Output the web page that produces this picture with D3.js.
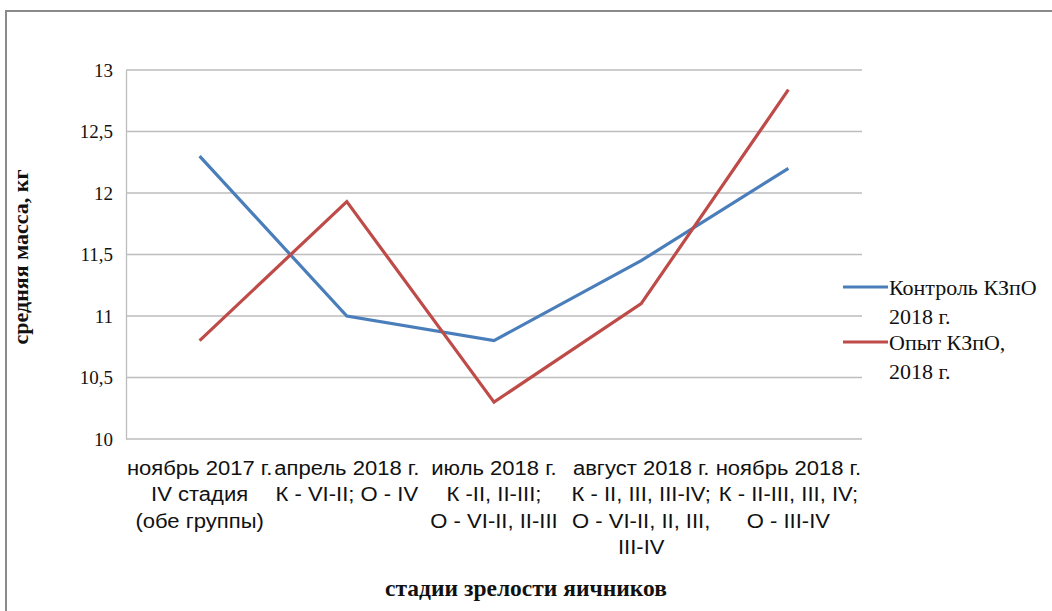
<!doctype html>
<html>
<head>
<meta charset="utf-8">
<script src="https://d3js.org/d3.v7.min.js"></script>
<style>
    body { margin: 0; background: #fff; }
    svg { display: block; }
</style>
</head>
<body>
<svg width="1052" height="611"></svg>
<script>
    // data
    var categories = [
        ["ноябрь 2017 г.", "IV стадия", "(обе группы)"],
        ["апрель 2018 г.", "К - VI-II; О - IV"],
        ["июль 2018 г.", "К -II, II-III;", "О - VI-II, II-III"],
        ["август 2018 г.", "К - II, III, III-IV;", "О - VI-II, II, III,", "III-IV"],
        ["ноябрь 2018 г.", "К - II-III, III, IV;", "О - III-IV"]
    ];
    var control = [12.3, 11.0, 10.8, 11.45, 12.2];
    var opyt = [10.8, 11.93, 10.3, 11.1, 12.84];
    var yTicks = [10, 10.5, 11, 11.5, 12, 12.5, 13];
    var seriesNames = [["Контроль КЗпО", "2018 г."], ["Опыт КЗпО,", "2018 г."]];
    var colors = ["#4a7ebb", "#be4b48"];

    // regular serif only shows up at large sizes here, so draw it at 28px and scale down
    var SERIF = "'Liberation Serif'";
    var BIG = 28;
    var svg = d3.select("svg");

    // outer frame
    svg.append("rect")
       .attr("x", 6).attr("y", 11)
       .attr("width", 1060).attr("height", 620)
       .attr("fill", "none")
       .attr("stroke", "#8a8a8a")
       .attr("stroke-width", 2);

    var plotL = 126, plotR = 862, plotT = 70, plotB = 439;

    var x = d3.scaleBand().domain(d3.range(categories.length)).range([plotL, plotR]);
    var y = d3.scaleLinear().domain([10, 13]).range([plotB, plotT]);

    // gridlines
    svg.append("g")
       .selectAll("line")
       .data(yTicks)
       .enter().append("line")
       .attr("x1", plotL).attr("x2", plotR)
       .attr("y1", function(d) { return y(d); })
       .attr("y2", function(d) { return y(d); })
       .attr("stroke", "#bdbdbd")
       .attr("stroke-width", 1.3);

    // y axis
    var yAxis = svg.append("g")
       .attr("transform", "translate(" + plotL + ",0)")
       .call(d3.axisLeft(y).tickValues(yTicks).tickSize(0).tickPadding(13)
             .tickFormat(function(d) { return String(d).replace(".", ","); }));
    yAxis.attr("font-family", null).attr("font-size", null);
    yAxis.select(".domain").attr("stroke", "#bdbdbd").attr("stroke-width", 1.3);
    yAxis.selectAll(".tick text")
       .attr("x", 0)
       .attr("transform", "translate(-13,0) scale(" + (19 / BIG) + ")")
       .style("font-family", SERIF)
       .style("font-size", BIG + "px")
       .attr("fill", "#111");

    // category labels (reference text is a bit stretched sideways)
    var labels = svg.append("g")
       .selectAll("g")
       .data(categories)
       .enter().append("g")
       .attr("transform", function(d, i) {
           return "translate(" + (x(i) + x.bandwidth() / 2) + ",475) scale(1.13,1)";
       })
       .append("text")
       .attr("text-anchor", "middle")
       .style("font-family", "'Liberation Sans'")
       .style("font-size", "19.5px")
       .attr("fill", "#111");
    labels.selectAll("tspan")
       .data(function(d) { return d; })
       .enter().append("tspan")
       .attr("x", 0)
       .attr("dy", function(d, i) { return i === 0 ? 0 : 26.5; })
       .text(function(d) { return d; });

    // lines
    var line = d3.line()
       .x(function(d, i) { return x(i) + x.bandwidth() / 2; })
       .y(function(d) { return y(d); });

    [control, opyt].forEach(function(s, k) {
        svg.append("path")
           .datum(s)
           .attr("d", line)
           .attr("fill", "none")
           .attr("stroke", colors[k])
           .attr("stroke-width", 3.2)
           .attr("stroke-linejoin", "miter");
    });

    // legend
    var legendY = [287, 342];
    var ls = 22 / BIG;
    seriesNames.forEach(function(names, k) {
        svg.append("line")
           .attr("x1", 843).attr("x2", 888)
           .attr("y1", legendY[k]).attr("y2", legendY[k])
           .attr("stroke", colors[k]).attr("stroke-width", 3.2);
        var t = svg.append("g")
           .attr("transform", "translate(889," + (legendY[k] + 8) + ") scale(" + ls + ")")
           .append("text")
           .style("font-family", SERIF)
           .style("font-size", BIG + "px")
           .attr("fill", "#111");
        names.forEach(function(n, j) {
            t.append("tspan").attr("x", 0).attr("dy", j === 0 ? 0 : 29 / ls).text(n);
        });
    });

    // axis titles
    svg.append("text")
       .attr("transform", "translate(28,257) rotate(-90)")
       .attr("text-anchor", "middle")
       .style("font-family", SERIF)
       .style("font-weight", "bold")
       .style("font-size", "22px")
       .attr("fill", "#111")
       .text("средняя масса, кг");

    svg.append("text")
       .attr("x", 526).attr("y", 596)
       .attr("text-anchor", "middle")
       .style("font-family", SERIF)
       .style("font-weight", "bold")
       .style("font-size", "23.5px")
       .attr("fill", "#111")
       .text("стадии зрелости яичников");
</script>
</body>
</html>
